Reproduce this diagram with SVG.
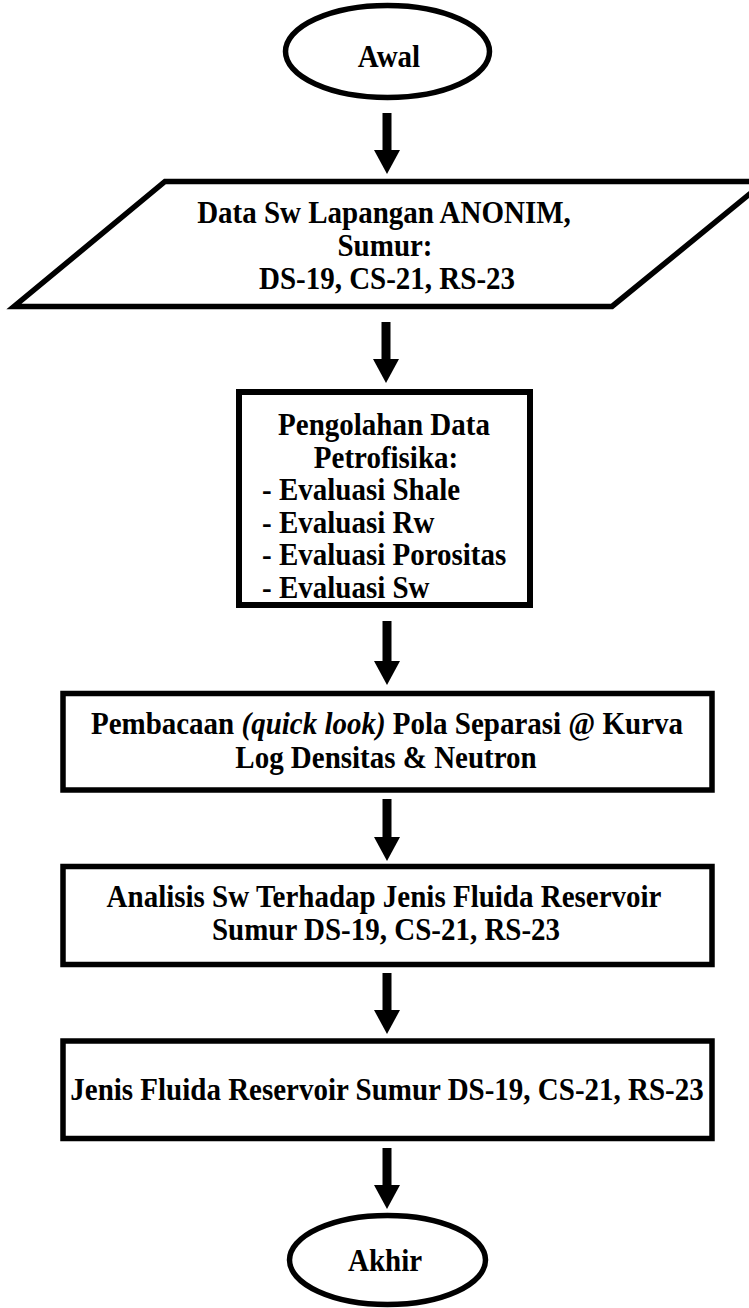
<svg xmlns="http://www.w3.org/2000/svg" width="749" height="1308" viewBox="0 0 749 1308">
<style>
.sh{fill:#fff;stroke:#000;stroke-width:5.5}
.t{font-family:"Liberation Serif","Times New Roman",serif;font-weight:bold;font-size:29px;fill:#000;text-anchor:middle}
.l{text-anchor:start}
.i{font-style:italic}
.c{stroke:#000;stroke-width:9;fill:none}
</style>
<defs>
<marker id="ah" markerUnits="userSpaceOnUse" markerWidth="24" markerHeight="26" viewBox="0 0 24 26" refX="0" refY="13" orient="auto">
<path d="M0,0 L24,13 L0,26 Z" fill="#000"/>
</marker>
</defs>
<rect width="749" height="1308" fill="#fff"/>
<g id="connectors">
<line class="c" x1="387" y1="113" x2="387" y2="150" marker-end="url(#ah)"/>
<line class="c" x1="386" y1="322" x2="386" y2="359" marker-end="url(#ah)"/>
<line class="c" x1="387" y1="621" x2="387" y2="661" marker-end="url(#ah)"/>
<line class="c" x1="387" y1="799" x2="387" y2="837" marker-end="url(#ah)"/>
<line class="c" x1="387" y1="973" x2="387" y2="1010" marker-end="url(#ah)"/>
<line class="c" x1="387" y1="1148" x2="387" y2="1185" marker-end="url(#ah)"/>
</g>
<g id="awal">
<ellipse class="sh" cx="387.5" cy="51.5" rx="102" ry="46"/>
<text class="t" transform="translate(389 67) scale(1 1.1)">Awal</text>
</g>
<g id="data">
<polygon class="sh" points="165,181.5 765,181.5 612,306.5 14,306.5"/>
<text class="t" transform="translate(384 222.5) scale(1 1.1)">Data Sw Lapangan ANONIM,</text>
<text class="t" transform="translate(385 255.5) scale(1 1.1)">Sumur:</text>
<text class="t" transform="translate(387 288.5) scale(1 1.1)">DS-19, CS-21, RS-23</text>
</g>
<g id="pengolahan">
<rect class="sh" x="239" y="392" width="291" height="213" style="stroke-width:6"/>
<text class="t" transform="translate(384 435) scale(1 1.1)">Pengolahan Data</text>
<text class="t" transform="translate(386 467.5) scale(1 1.1)">Petrofisika:</text>
<text class="t l" transform="translate(262 500) scale(1 1.1)">- Evaluasi Shale</text>
<text class="t l" transform="translate(262 532.5) scale(1 1.1)">- Evaluasi Rw</text>
<text class="t l" transform="translate(262 565) scale(1 1.1)">- Evaluasi Porositas</text>
<text class="t l" transform="translate(262 597.5) scale(1 1.1)">- Evaluasi Sw</text>
</g>
<g id="pembacaan">
<rect class="sh" x="63" y="693.5" width="649" height="96.5"/>
<text class="t" transform="translate(387 734) scale(1 1.1)">Pembacaan <tspan class="i">(quick look)</tspan> Pola Separasi @ Kurva</text>
<text class="t" transform="translate(386 768) scale(1 1.1)">Log Densitas &amp; Neutron</text>
</g>
<g id="analisis">
<rect class="sh" x="63" y="866.5" width="649" height="98"/>
<text class="t" transform="translate(384 907) scale(1 1.1)">Analisis Sw Terhadap Jenis Fluida Reservoir</text>
<text class="t" transform="translate(386 940) scale(1 1.1)">Sumur DS-19, CS-21, RS-23</text>
</g>
<g id="jenis">
<rect class="sh" x="63" y="1041" width="649" height="97.5"/>
<text class="t" transform="translate(387 1100) scale(1 1.1)">Jenis Fluida Reservoir Sumur DS-19, CS-21, RS-23</text>
</g>
<g id="akhir">
<ellipse class="sh" cx="387.5" cy="1260" rx="98" ry="44.5"/>
<text class="t" transform="translate(385 1271) scale(1 1.1)">Akhir</text>
</g>
</svg>
